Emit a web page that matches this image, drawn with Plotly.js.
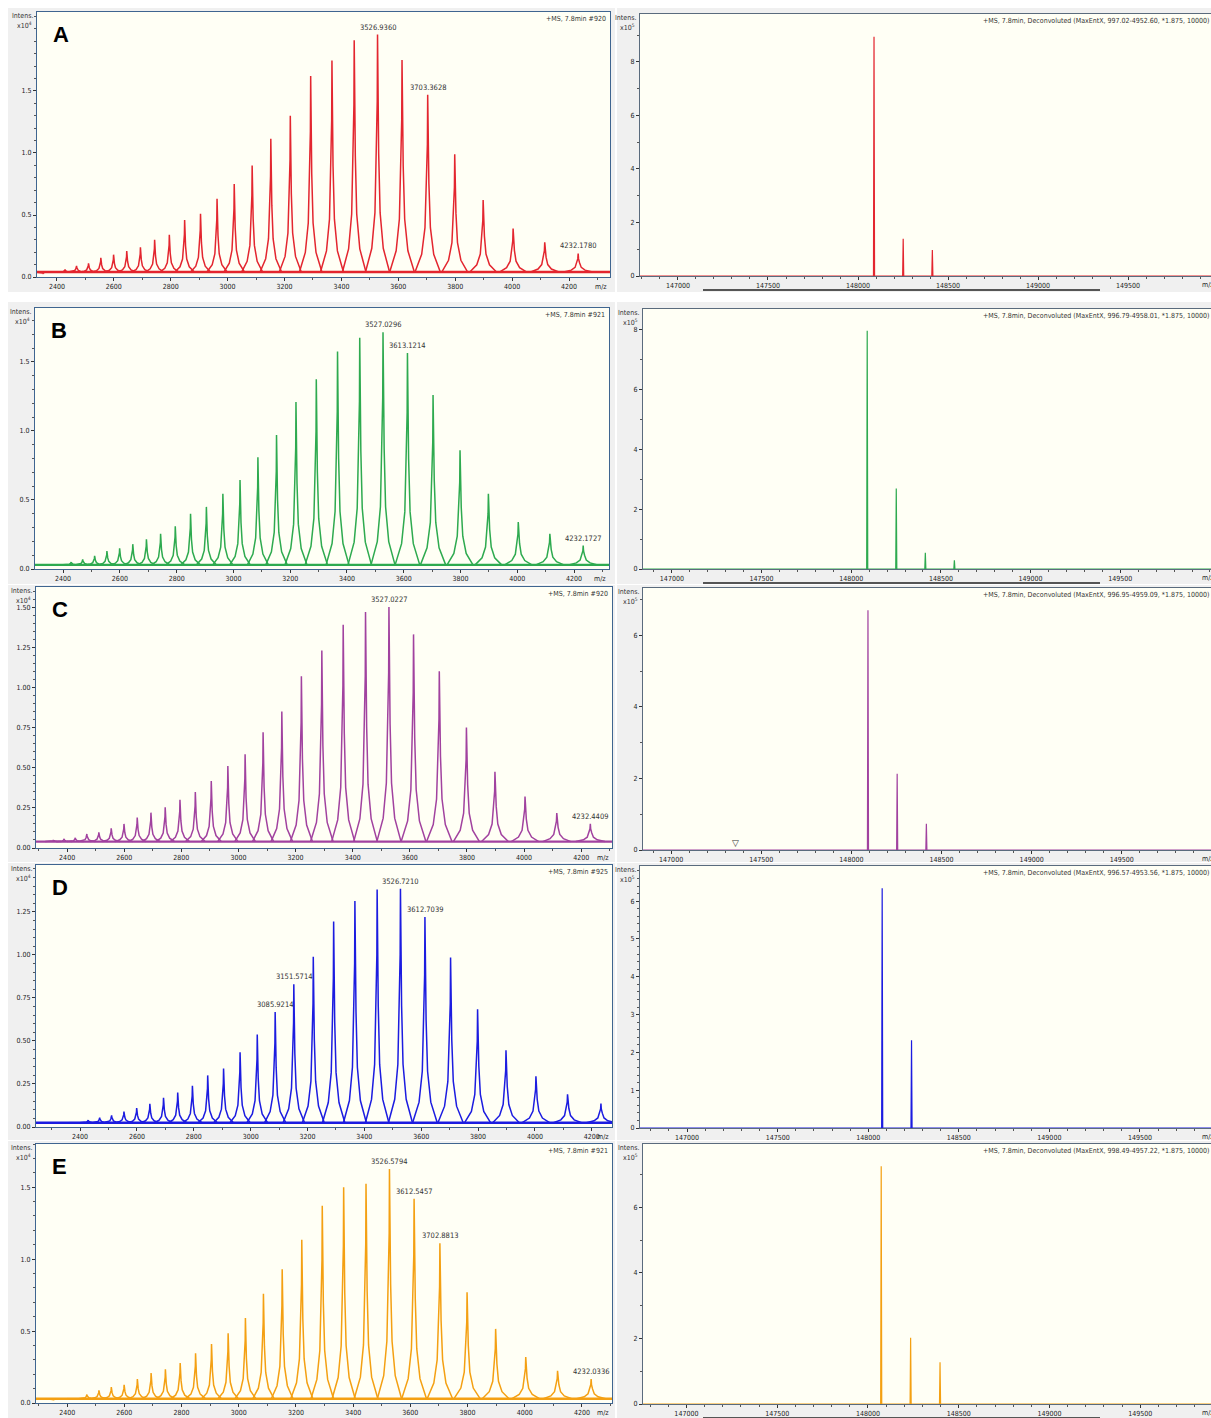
<!DOCTYPE html>
<html><head><meta charset="utf-8">
<script src="https://cdn.plot.ly/plotly-3.0.1.min.js"></script>
<style>html,body{margin:0;padding:0;overflow:hidden;background:#fff}#chart{width:1230px;height:1418px}</style>
</head><body><div id="chart"></div>
<script>
// ---------------- DATA ----------------
const panelLetters = ['A', 'B', 'C', 'D', 'E'];
const colors = ['#e3262f', '#2eaa4f', '#a1429f', '#1c1ce0', '#f4a012'];

// m/z of the charge-state envelope peaks (z = 63 ... 35)
const chargeStateMz = [2351.6, 2389.5, 2428.7, 2469.1, 2511.0, 2554.3, 2599.1, 2645.4, 2693.5, 2743.4,
  2795.1, 2848.9, 2904.7, 2962.8, 3023.2, 3086.2, 3151.8, 3220.3, 3291.9, 3366.7,
  3444.9, 3526.9, 3613.0, 3703.2, 3798.2, 3898.1, 4003.4, 4114.6, 4232.1];

// intensities (x10^4)
const intensA = [0.03, 0.04, 0.06, 0.09, 0.11, 0.155, 0.18, 0.21, 0.24, 0.30, 0.34, 0.46, 0.51, 0.63, 0.75, 0.90, 1.115, 1.30, 1.62, 1.745, 1.91, 1.955, 1.75, 1.47, 0.99, 0.62, 0.39, 0.28, 0.19];
const intensB = [0.025, 0.035, 0.05, 0.07, 0.095, 0.13, 0.15, 0.18, 0.215, 0.255, 0.31, 0.40, 0.45, 0.545, 0.645, 0.81, 0.97, 1.21, 1.375, 1.575, 1.675, 1.715, 1.565, 1.26, 0.86, 0.545, 0.34, 0.255, 0.17];
const intensC = [0.05, 0.056, 0.063, 0.0875, 0.098, 0.123, 0.15, 0.19, 0.22, 0.254, 0.30, 0.348, 0.417, 0.51, 0.583, 0.72, 0.85, 1.07, 1.23, 1.39, 1.47, 1.50, 1.33, 1.10, 0.75, 0.475, 0.32, 0.217, 0.15];
const intensD = [0.02, 0.025, 0.04, 0.054, 0.068, 0.09, 0.11, 0.135, 0.17, 0.20, 0.24, 0.30, 0.34, 0.435, 0.537, 0.668, 0.83, 0.99, 1.195, 1.314, 1.38, 1.385, 1.22, 0.985, 0.684, 0.446, 0.295, 0.19, 0.136];
const intensE = [0.02, 0.025, 0.03, 0.058, 0.088, 0.11, 0.127, 0.166, 0.208, 0.235, 0.277, 0.346, 0.41, 0.485, 0.59, 0.76, 0.93, 1.135, 1.37, 1.50, 1.524, 1.626, 1.42, 1.11, 0.77, 0.515, 0.32, 0.224, 0.166];
const baselineLevel = [0.04, 0.03, 0.04, 0.025, 0.03];

// labelled peaks (index into chargeStateMz) and their texts
const labelIdxA = [21, 23, 28]; const labelTxtA = ['3526.9360', '3703.3628', '4232.1780'];
const labelIdxB = [21, 22, 28]; const labelTxtB = ['3527.0296', '3613.1214', '4232.1727'];
const labelIdxC = [21, 28];     const labelTxtC = ['3527.0227', '4232.4409'];
const labelIdxD = [21, 22, 16, 15]; const labelTxtD = ['3526.7210', '3612.7039', '3151.5714', '3085.9214'];
const labelIdxE = [21, 22, 23, 28]; const labelTxtE = ['3526.5794', '3612.5457', '3702.8813', '4232.0336'];

// deconvoluted masses (Da) and intensities (x10^5)
const deconvMassA = [148089, 148251, 148413]; const deconvIntA = [8.94, 1.39, 0.97];
const deconvMassB = [148089, 148251, 148413, 148575]; const deconvIntB = [7.97, 2.69, 0.54, 0.29];
const deconvMassC = [148092, 148254, 148416]; const deconvIntC = [6.70, 2.13, 0.73];
const deconvMassD = [148077, 148239]; const deconvIntD = [6.34, 2.32];
const deconvMassE = [148073, 148235, 148397]; const deconvIntE = [7.25, 2.02, 1.27];

const scanLabels = ['+MS, 7.8min #920', '+MS, 7.8min #921', '+MS, 7.8min #920', '+MS, 7.8min #925', '+MS, 7.8min #921'];
const deconvLabels = [
  '+MS, 7.8min, Deconvoluted (MaxEntX, 997.02-4952.60, *1.875, 10000)',
  '+MS, 7.8min, Deconvoluted (MaxEntX, 996.79-4958.01, *1.875, 10000)',
  '+MS, 7.8min, Deconvoluted (MaxEntX, 996.95-4959.09, *1.875, 10000)',
  '+MS, 7.8min, Deconvoluted (MaxEntX, 996.57-4953.56, *1.875, 10000)',
  '+MS, 7.8min, Deconvoluted (MaxEntX, 998.49-4957.22, *1.875, 10000)'
];

// tick values
const leftXTicks = [2400, 2600, 2800, 3000, 3200, 3400, 3600, 3800, 4000, 4200];
const rightXTicks = [147000, 147500, 148000, 148500, 149000, 149500];
const leftYTicks = [[0, 0.5, 1.0, 1.5], [0, 0.5, 1.0, 1.5], [0, 0.25, 0.5, 0.75, 1.0, 1.25, 1.5], [0, 0.25, 0.5, 0.75, 1.0, 1.25], [0, 0.5, 1.0, 1.5]];
const rightYTicks = [[0, 2, 4, 6, 8], [0, 2, 4, 6, 8], [0, 2, 4, 6], [0, 1, 2, 3, 4, 5, 6], [0, 2, 4, 6]];

// ---------------- LAYOUT GEOMETRY (pixels) ----------------
const FW = 1230, FH = 1418;
const intens = [intensA, intensB, intensC, intensD, intensE];
const labelIdx = [labelIdxA, labelIdxB, labelIdxC, labelIdxD, labelIdxE];
const labelTxt = [labelTxtA, labelTxtB, labelTxtC, labelTxtD, labelTxtE];
const dMass = [deconvMassA, deconvMassB, deconvMassC, deconvMassD, deconvMassE];
const dInt = [deconvIntA, deconvIntB, deconvIntC, deconvIntD, deconvIntE];

const leftBox = [[37, 610, 12, 277], [35, 609, 308, 569], [36, 612, 587, 848], [36, 612, 865, 1127], [36, 612, 1144, 1403]];
const rightBox = [[640, 1222, 14, 276], [643, 1222, 309, 569], [643, 1222, 588, 850], [640, 1222, 866, 1128], [643, 1222, 1144, 1404]];
const leftXR = [[2330, 4344], [2301, 4323], [2291, 4308], [2245, 4271], [2291, 4305]];
const leftYR = [[0, 2.137], [0, 1.891], [0, 1.625], [0, 1.523], [0, 1.80]];
const leftMinor = [0.1, 0.1, 0.05, 0.05, 0.1];
const leftFmt = ['.1f', '.1f', '.2f', '.2f', '.1f'];
const rightXR = [[146789, 150022], [146839, 150067], [146844, 150056], [146740, 149953], [146761, 149950]];
const rightYR = [[0, 9.79], [0, 8.70], [0, 7.32], [0, 6.93], [0, 7.93]];
const rightMinor = [1, 1, 1, 0.2, 1];
const grayRows = [[8, 292], [302, 584], [585, 862], [863, 1140], [1141, 1418]];

const FONT = 'DejaVu Sans Condensed, Liberation Sans Narrow, DejaVu Sans, sans-serif';
const px = v => v / FW, py = v => 1 - v / FH;

const data = [], annotations = [], shapes = [];
const layout = {
  width: FW, height: FH, margin: {l: 0, r: 0, t: 0, b: 0},
  paper_bgcolor: '#ffffff', plot_bgcolor: 'rgba(0,0,0,0)', showlegend: false,
  font: {family: FONT, size: 7, color: '#222'}
};

function axis(domain, range, anchor, tickvals, minor, fmt, lineColor) {
  return {
    domain: domain, range: range, anchor: anchor, tickmode: 'array', tickvals: tickvals, tickformat: fmt,
    ticks: 'outside', ticklen: 3, tickwidth: 1, tickcolor: '#333',
    showline: true, linecolor: lineColor, linewidth: 1, mirror: true,
    showgrid: false, zeroline: false, fixedrange: true, automargin: false,
    tickfont: {family: FONT, size: 7, color: '#222'},
    minor: {tickmode: 'linear', tick0: 0, dtick: minor, ticks: 'outside', ticklen: 2, tickcolor: '#555', showgrid: false}
  };
}

// peak drawing shape (presentation only): offsets in m/z relative to apex, fraction of height
const shapeOff = [-42, -20, -9, -4, -1, 0, 1, 4, 9, 20, 42];
const shapeFrac = [0, 0.1, 0.25, 0.5, 0.72, 1, 0.72, 0.5, 0.25, 0.1, 0];

for (let i = 0; i < 5; i++) {
  const li = 2 * i + 1, ri = 2 * i + 2;
  const lx = 'x' + li, ly = 'y' + li, rx = 'x' + ri, ry = 'y' + ri;
  const lb = leftBox[i], rb = rightBox[i];
  // backgrounds
  shapes.push({type: 'rect', xref: 'paper', yref: 'paper', x0: px(8), x1: px(615), y0: py(grayRows[i][1]), y1: py(grayRows[i][0]), fillcolor: '#f0f0f0', line: {width: 0}, layer: 'below'});
  shapes.push({type: 'rect', xref: 'paper', yref: 'paper', x0: px(617), x1: px(FW), y0: py(grayRows[i][1]), y1: py(grayRows[i][0]), fillcolor: '#f0f0f0', line: {width: 0}, layer: 'below'});
  shapes.push({type: 'rect', xref: 'paper', yref: 'paper', x0: px(lb[0]), x1: px(lb[1]), y0: py(lb[3]), y1: py(lb[2]), fillcolor: '#fffff5', line: {width: 0}, layer: 'below'});
  shapes.push({type: 'rect', xref: 'paper', yref: 'paper', x0: px(rb[0]), x1: px(rb[1]), y0: py(rb[3]), y1: py(rb[2]), fillcolor: '#fffff5', line: {width: 0}, layer: 'below'});

  layout['xaxis' + li] = axis([px(lb[0]), px(lb[1])], leftXR[i], ly, leftXTicks, 100, 'd', '#3f6590');
  layout['yaxis' + li] = axis([py(lb[3]), py(lb[2])], leftYR[i], lx, leftYTicks[i], leftMinor[i], leftFmt[i], '#3f6590');
  layout['xaxis' + ri] = axis([px(rb[0]), px(rb[1])], rightXR[i], ry, rightXTicks, 100, 'd', '#5a6b7d');
  layout['yaxis' + ri] = axis([py(rb[3]), py(rb[2])], rightYR[i], rx, rightYTicks[i], rightMinor[i], 'd', '#5a6b7d');

  // baseline of the raw spectrum
  const b = baselineLevel[i];
  data.push({type: 'scatter', mode: 'lines', xaxis: lx, yaxis: ly, x: leftXR[i], y: [b, b],
    line: {color: colors[i], width: 2.4}, hoverinfo: 'skip'});
  // peaks of the raw spectrum
  const xs = [], ys = [];
  chargeStateMz.forEach((c, k) => {
    const s = c / 3500, h = intens[i][k];
    shapeOff.forEach((o, j) => { xs.push(c + o * s); ys.push(b + (h - b) * shapeFrac[j]); });
    xs.push(null); ys.push(null);
  });
  data.push({type: 'scatter', mode: 'lines', xaxis: lx, yaxis: ly, x: xs, y: ys,
    line: {color: colors[i], width: 1.5}, connectgaps: false, hoverinfo: 'skip'});

  // deconvoluted spectrum
  const dx = [rightXR[i][0]], dy = [0];
  dMass[i].forEach((m, k) => { dx.push(m - 3, m, m + 3); dy.push(0, dInt[i][k], 0); });
  dx.push(rightXR[i][1]); dy.push(0);
  data.push({type: 'scatter', mode: 'lines', xaxis: rx, yaxis: ry, x: dx, y: dy,
    line: {color: colors[i], width: 1.2}, hoverinfo: 'skip'});

  // peak labels
  labelIdx[i].forEach((k, j) => {
    annotations.push({xref: lx, yref: ly, x: chargeStateMz[k], y: intens[i][k], text: labelTxt[i][j],
      showarrow: false, yanchor: 'bottom', xanchor: 'center', yshift: 1, font: {family: FONT, size: 7.5, color: '#333'}});
  });

  // panel letter
  annotations.push({xref: 'paper', yref: 'paper', x: px(lb[0] + 14), y: py(lb[2] + 8), xanchor: 'left', yanchor: 'top',
    text: '<b>' + panelLetters[i] + '</b>', showarrow: false, font: {family: 'Liberation Sans, Arial, sans-serif', size: 22, color: '#000'}});
  // scan info
  annotations.push({xref: 'paper', yref: 'paper', x: px(lb[1] - 2), y: py(lb[2] + 1), xanchor: 'right', yanchor: 'top',
    text: scanLabels[i], showarrow: false, font: {family: FONT, size: 7, color: '#333'}});
  annotations.push({xref: 'paper', yref: 'paper', x: px(1212), y: py(rb[2] + 1), xanchor: 'right', yanchor: 'top',
    text: deconvLabels[i], showarrow: false, font: {family: FONT, size: 7, color: '#333'}});
  // intensity headers
  [[lb, '4'], [rb, '5']].forEach(([box, ex]) => {
    annotations.push({xref: 'paper', yref: 'paper', x: px(box[0] - 2), y: py(box[2] - 2), xanchor: 'right', yanchor: 'top',
      text: 'Intens.', showarrow: false, font: {family: FONT, size: 7, color: '#333'}});
    annotations.push({xref: 'paper', yref: 'paper', x: px(box[0] - 3), y: py(box[2] + 6), xanchor: 'right', yanchor: 'top',
      text: 'x10<sup>' + ex + '</sup>', showarrow: false, font: {family: FONT, size: 7, color: '#333'}});
  });
  // m/z axis labels
  annotations.push({xref: 'paper', yref: 'paper', x: px(lb[1] - 1), y: py(lb[3] + 4), xanchor: 'right', yanchor: 'top',
    text: 'm/z', showarrow: false, font: {family: FONT, size: 7, color: '#222'}});
  annotations.push({xref: 'paper', yref: 'paper', x: px(1216), y: py(rb[3] + 3), xanchor: 'right', yanchor: 'top',
    text: 'm/z', showarrow: false, font: {family: FONT, size: 7, color: '#222'}});
  // scroll bar under the deconvoluted plot
  shapes.push({type: 'line', xref: 'paper', yref: 'paper', x0: px(703), x1: px(1100), y0: py(rb[3] + 14), y1: py(rb[3] + 14),
    line: {color: '#555', width: 2}, layer: 'below'});
}
// marker in panel C deconvoluted spectrum
annotations.push({xref: 'x6', yref: 'y6', x: 147357, y: 0, yanchor: 'bottom', text: '▽', showarrow: false, yshift: 0,
  font: {family: 'DejaVu Sans', size: 9, color: '#333'}});

layout.annotations = annotations;
layout.shapes = shapes;
Plotly.newPlot('chart', data, layout, {staticPlot: true, displayModeBar: false});
</script>
</body></html>
